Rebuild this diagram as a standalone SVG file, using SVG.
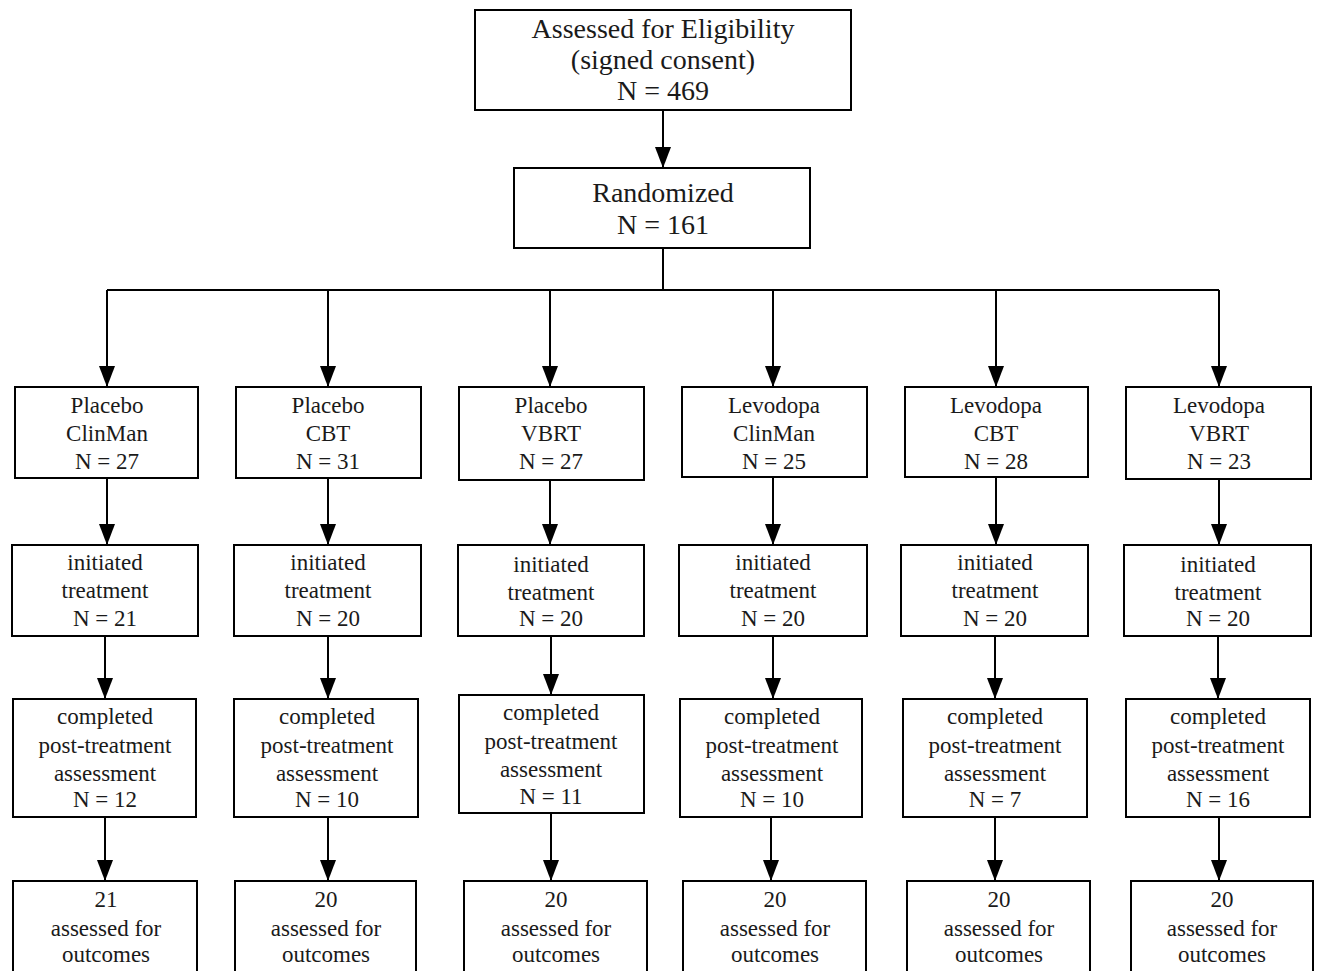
<svg xmlns="http://www.w3.org/2000/svg" width="1320" height="971" viewBox="0 0 1320 971">
<style>
.b{fill:#fff;stroke:#000;stroke-width:2}
.t{font-family:'Liberation Serif','DejaVu Serif',serif;font-size:23px;fill:#1a1a1a;text-anchor:middle}
.tl{font-size:28px}
.c{fill:none;stroke:#000;stroke-width:2}
</style>
<defs>
<marker id="ah" viewBox="0 0 21 16" refX="21" refY="8" markerWidth="21" markerHeight="16" markerUnits="userSpaceOnUse" orient="auto">
<path d="M0,0 L21,8 L0,16 z" fill="#000"/>
</marker>
</defs>
<rect width="1320" height="971" fill="#fff"/>
<g id="connectors">
<path class="c" d="M663,110 V168" marker-end="url(#ah)"/>
<path class="c" d="M663,248 V290 M107,290 H1219"/>
<path class="c" d="M107,290 V387" marker-end="url(#ah)"/>
<path class="c" d="M328,290 V387" marker-end="url(#ah)"/>
<path class="c" d="M550,290 V387" marker-end="url(#ah)"/>
<path class="c" d="M773,290 V387" marker-end="url(#ah)"/>
<path class="c" d="M996,290 V387" marker-end="url(#ah)"/>
<path class="c" d="M1219,290 V387" marker-end="url(#ah)"/>
<path class="c" d="M107,478 V545" marker-end="url(#ah)"/>
<path class="c" d="M328,478 V545" marker-end="url(#ah)"/>
<path class="c" d="M550,480 V545" marker-end="url(#ah)"/>
<path class="c" d="M773,477 V545" marker-end="url(#ah)"/>
<path class="c" d="M996,477 V545" marker-end="url(#ah)"/>
<path class="c" d="M1219,479 V545" marker-end="url(#ah)"/>
<path class="c" d="M105,636 V699" marker-end="url(#ah)"/>
<path class="c" d="M328,636 V699" marker-end="url(#ah)"/>
<path class="c" d="M551,636 V695" marker-end="url(#ah)"/>
<path class="c" d="M773,636 V699" marker-end="url(#ah)"/>
<path class="c" d="M995,636 V699" marker-end="url(#ah)"/>
<path class="c" d="M1218,636 V699" marker-end="url(#ah)"/>
<path class="c" d="M105,817 V881" marker-end="url(#ah)"/>
<path class="c" d="M328,817 V881" marker-end="url(#ah)"/>
<path class="c" d="M551,813 V881" marker-end="url(#ah)"/>
<path class="c" d="M771,817 V881" marker-end="url(#ah)"/>
<path class="c" d="M995,817 V881" marker-end="url(#ah)"/>
<path class="c" d="M1219,817 V881" marker-end="url(#ah)"/>
</g>
<g id="eligibility">
<rect class="b" x="475" y="10" width="376" height="100"/>
<text class="t tl" x="663" y="38">Assessed for Eligibility</text>
<text class="t tl" x="663" y="69">(signed consent)</text>
<text class="t tl" x="663" y="100">N = 469</text>
</g>
<g id="randomized">
<rect class="b" x="514" y="168" width="296" height="80"/>
<text class="t tl" x="663" y="202">Randomized</text>
<text class="t tl" x="663" y="234">N = 161</text>
</g>
<g id="arm1">
<rect class="b" x="15" y="387" width="183" height="91"/>
<text class="t" x="107" y="413">Placebo</text>
<text class="t" x="107" y="441">ClinMan</text>
<text class="t" x="107" y="469">N = 27</text>
</g>
<g id="arm2">
<rect class="b" x="236" y="387" width="185" height="91"/>
<text class="t" x="328" y="413">Placebo</text>
<text class="t" x="328" y="441">CBT</text>
<text class="t" x="328" y="469">N = 31</text>
</g>
<g id="arm3">
<rect class="b" x="459" y="387" width="185" height="93"/>
<text class="t" x="551" y="413">Placebo</text>
<text class="t" x="551" y="441">VBRT</text>
<text class="t" x="551" y="469">N = 27</text>
</g>
<g id="arm4">
<rect class="b" x="682" y="387" width="185" height="90"/>
<text class="t" x="774" y="413">Levodopa</text>
<text class="t" x="774" y="441">ClinMan</text>
<text class="t" x="774" y="469">N = 25</text>
</g>
<g id="arm5">
<rect class="b" x="905" y="387" width="183" height="90"/>
<text class="t" x="996" y="413">Levodopa</text>
<text class="t" x="996" y="441">CBT</text>
<text class="t" x="996" y="469">N = 28</text>
</g>
<g id="arm6">
<rect class="b" x="1126" y="387" width="185" height="92"/>
<text class="t" x="1219" y="413">Levodopa</text>
<text class="t" x="1219" y="441">VBRT</text>
<text class="t" x="1219" y="469">N = 23</text>
</g>
<g id="init1">
<rect class="b" x="12" y="545" width="186" height="91"/>
<text class="t" x="105" y="570">initiated</text>
<text class="t" x="105" y="598">treatment</text>
<text class="t" x="105" y="626">N = 21</text>
</g>
<g id="init2">
<rect class="b" x="234" y="545" width="187" height="91"/>
<text class="t" x="328" y="570">initiated</text>
<text class="t" x="328" y="598">treatment</text>
<text class="t" x="328" y="626">N = 20</text>
</g>
<g id="init3">
<rect class="b" x="458" y="545" width="186" height="91"/>
<text class="t" x="551" y="572">initiated</text>
<text class="t" x="551" y="600">treatment</text>
<text class="t" x="551" y="626">N = 20</text>
</g>
<g id="init4">
<rect class="b" x="679" y="545" width="188" height="91"/>
<text class="t" x="773" y="570">initiated</text>
<text class="t" x="773" y="598">treatment</text>
<text class="t" x="773" y="626">N = 20</text>
</g>
<g id="init5">
<rect class="b" x="901" y="545" width="187" height="91"/>
<text class="t" x="995" y="570">initiated</text>
<text class="t" x="995" y="598">treatment</text>
<text class="t" x="995" y="626">N = 20</text>
</g>
<g id="init6">
<rect class="b" x="1124" y="545" width="187" height="91"/>
<text class="t" x="1218" y="572">initiated</text>
<text class="t" x="1218" y="600">treatment</text>
<text class="t" x="1218" y="626">N = 20</text>
</g>
<g id="comp1">
<rect class="b" x="13" y="699" width="183" height="118"/>
<text class="t" x="105" y="724">completed</text>
<text class="t" x="105" y="753">post-treatment</text>
<text class="t" x="105" y="781">assessment</text>
<text class="t" x="105" y="807">N = 12</text>
</g>
<g id="comp2">
<rect class="b" x="234" y="699" width="184" height="118"/>
<text class="t" x="327" y="724">completed</text>
<text class="t" x="327" y="753">post-treatment</text>
<text class="t" x="327" y="781">assessment</text>
<text class="t" x="327" y="807">N = 10</text>
</g>
<g id="comp3">
<rect class="b" x="459" y="695" width="185" height="118"/>
<text class="t" x="551" y="720">completed</text>
<text class="t" x="551" y="749">post-treatment</text>
<text class="t" x="551" y="777">assessment</text>
<text class="t" x="551" y="804">N = 11</text>
</g>
<g id="comp4">
<rect class="b" x="680" y="699" width="182" height="118"/>
<text class="t" x="772" y="724">completed</text>
<text class="t" x="772" y="753">post-treatment</text>
<text class="t" x="772" y="781">assessment</text>
<text class="t" x="772" y="807">N = 10</text>
</g>
<g id="comp5">
<rect class="b" x="903" y="699" width="184" height="118"/>
<text class="t" x="995" y="724">completed</text>
<text class="t" x="995" y="753">post-treatment</text>
<text class="t" x="995" y="781">assessment</text>
<text class="t" x="995" y="807">N = 7</text>
</g>
<g id="comp6">
<rect class="b" x="1126" y="699" width="184" height="118"/>
<text class="t" x="1218" y="724">completed</text>
<text class="t" x="1218" y="753">post-treatment</text>
<text class="t" x="1218" y="781">assessment</text>
<text class="t" x="1218" y="807">N = 16</text>
</g>
<g id="out1">
<rect class="b" x="13" y="881" width="184" height="100"/>
<text class="t" x="106" y="907">21</text>
<text class="t" x="106" y="936">assessed for</text>
<text class="t" x="106" y="962">outcomes</text>
</g>
<g id="out2">
<rect class="b" x="235" y="881" width="181" height="100"/>
<text class="t" x="326" y="907">20</text>
<text class="t" x="326" y="936">assessed for</text>
<text class="t" x="326" y="962">outcomes</text>
</g>
<g id="out3">
<rect class="b" x="464" y="881" width="183" height="100"/>
<text class="t" x="556" y="907">20</text>
<text class="t" x="556" y="936">assessed for</text>
<text class="t" x="556" y="962">outcomes</text>
</g>
<g id="out4">
<rect class="b" x="683" y="881" width="183" height="100"/>
<text class="t" x="775" y="907">20</text>
<text class="t" x="775" y="936">assessed for</text>
<text class="t" x="775" y="962">outcomes</text>
</g>
<g id="out5">
<rect class="b" x="907" y="881" width="183" height="100"/>
<text class="t" x="999" y="907">20</text>
<text class="t" x="999" y="936">assessed for</text>
<text class="t" x="999" y="962">outcomes</text>
</g>
<g id="out6">
<rect class="b" x="1131" y="881" width="182" height="100"/>
<text class="t" x="1222" y="907">20</text>
<text class="t" x="1222" y="936">assessed for</text>
<text class="t" x="1222" y="962">outcomes</text>
</g>
</svg>
